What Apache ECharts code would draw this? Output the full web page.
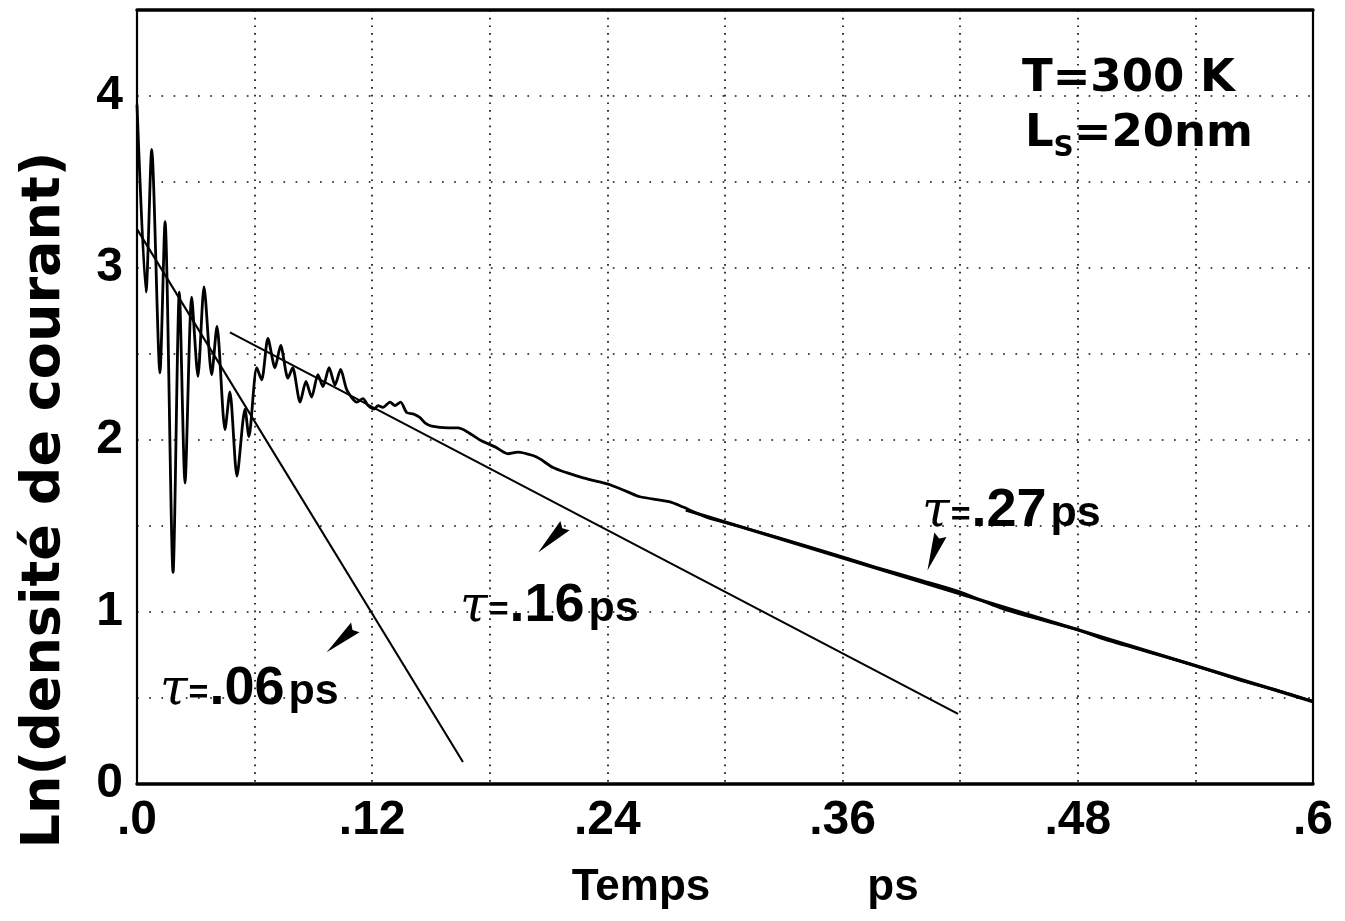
<!DOCTYPE html>
<html>
<head>
<meta charset="utf-8">
<script src="https://cdn.jsdelivr.net/npm/echarts@6/dist/echarts.min.js"></script>
<style>
  html, body { margin: 0; padding: 0; background: #fff; }
  #chart { width: 1345px; height: 921px; }
</style>
</head>
<body>
<div id="chart"></div>
<script>
// Simulated current density decay, T = 300 K, Ls = 20 nm
const timePs = [
  0.0000, 0.0046, 0.0075, 0.0117, 0.0143, 0.0184, 0.0216, 0.0245, 0.0279, 0.0311,
  0.0342, 0.0381, 0.0408, 0.0449, 0.0474, 0.0510, 0.0551, 0.0571, 0.0611, 0.0636,
  0.0668, 0.0704, 0.0733, 0.0770, 0.0794, 0.0832, 0.0862, 0.0891, 0.0923, 0.0949,
  0.0980, 0.1010, 0.1039, 0.1071, 0.1122, 0.1153, 0.1179, 0.1209, 0.1230, 0.1254,
  0.1291, 0.1316, 0.1345, 0.1376, 0.1413, 0.1444, 0.1469, 0.1504, 0.1587, 0.1638,
  0.1682, 0.1750, 0.1827, 0.1893, 0.1944, 0.2020, 0.2056, 0.2122, 0.2192, 0.2276,
  0.2347, 0.2413, 0.2500, 0.2566, 0.2719, 0.2786, 0.2908, 0.3066, 0.3485, 0.3770,
  0.4013, 0.4190, 0.4439, 0.4791, 0.4939, 0.5367, 0.5612, 0.5847, 0.6000
];
const lnCurrent = [
  3.95, 2.86, 3.69, 2.39, 3.27, 1.23, 2.86, 1.75, 2.83, 2.37,
  2.89, 2.38, 2.66, 2.06, 2.28, 1.79, 2.18, 2.02, 2.42, 2.35,
  2.59, 2.42, 2.55, 2.36, 2.42, 2.22, 2.34, 2.25, 2.38, 2.31,
  2.42, 2.32, 2.41, 2.29, 2.22, 2.24, 2.20, 2.18, 2.20, 2.19,
  2.22, 2.20, 2.22, 2.16, 2.15, 2.13, 2.10, 2.08, 2.07, 2.07,
  2.05, 2.00, 1.96, 1.92, 1.93, 1.91, 1.89, 1.84, 1.81, 1.78,
  1.76, 1.74, 1.70, 1.67, 1.64, 1.61, 1.55, 1.50, 1.36, 1.26,
  1.18, 1.12, 1.01, 0.90, 0.84, 0.70, 0.61, 0.535, 0.48
];

// Exponential fits (straight lines in log scale): [start, end]
const fitTau06 = [[0.0, 3.226], [0.1663, 0.128]];
const fitTau16 = [[0.0474, 2.626], [0.4189, 0.408]];
const fitTau27 = [[0.28, 1.593], [0.6, 0.479]];

// Fit labels and their anchor (left edge, middle) in data units
const tauValues = ['.06', '.16', '.27'];
const tauLabelAnchors = [[0.0117, 0.575], [0.1648, 1.06], [0.4005, 1.612]];
// Pointer wedges: centre position, rotation (deg)
const pointerCentres = [[0.1041, 0.838], [0.2115, 1.424], [0.4066, 1.345]];
const pointerAngles = [131, 135, 160];

const xTickLabels = ['.0', '.12', '.24', '.36', '.48', '.6'];
const yTickLabels = ['0', '1', '2', '3', '4'];

const curveData = timePs.map((t, i) => [t, lnCurrent[i]]);

const SANS = 'Liberation Sans';
const WIDE = 'DejaVu Sans';

// narrow wedge, tip at the top, slightly notched back
const WEDGE = 'path://M6,0 L12,40 L6,36 L0,40 Z';

// bottom padding lifts the smaller pieces onto a common baseline
const tauRich = {
  tau: { fontFamily: 'DejaVu Serif', fontStyle: 'italic', fontSize: 50, color: '#000', verticalAlign: 'bottom', lineHeight: 62 },
  eq: { fontFamily: SANS, fontWeight: 'bold', fontSize: 34, color: '#000', verticalAlign: 'bottom', lineHeight: 40, padding: [0, 1, 5, 1] },
  num: { fontFamily: SANS, fontWeight: 'bold', fontSize: 54, color: '#000', verticalAlign: 'bottom', lineHeight: 54 },
  unit: { fontFamily: SANS, fontWeight: 'bold', fontSize: 43, color: '#000', verticalAlign: 'bottom', lineHeight: 46, padding: [0, 0, 2, 4] }
};

const noteRich = {
  b: { fontFamily: WIDE, fontWeight: 'bold', fontSize: 45, color: '#000', lineHeight: 54, verticalAlign: 'bottom', padding: [0, 0, 6, 0] },
  sub: { fontFamily: WIDE, fontWeight: 'bold', fontSize: 28, color: '#000', lineHeight: 30, verticalAlign: 'bottom' }
};

const chart = echarts.init(document.getElementById('chart'), null, { renderer: 'canvas' });

const dotted = (color, w, gap) => ({ color: color, width: w, type: [w, gap] });

chart.setOption({
  backgroundColor: '#fff',
  animation: false,
  grid: { left: 137, right: 32, top: 10, bottom: 137, containLabel: false },
  xAxis: [
    {
      type: 'value', position: 'bottom', min: 0, max: 0.6, interval: 0.06,
      axisLine: { show: true, onZero: false, lineStyle: { color: '#000', width: 3.5 } },
      axisTick: { show: false },
      splitLine: { show: true, lineStyle: dotted('#111', 1.7, 6) },
      axisLabel: {
        margin: 13, color: '#000', fontFamily: SANS, fontWeight: 'bold', fontSize: 48,
        formatter: v => {
          const k = Math.round(v / 0.12);
          return Math.abs(v - k * 0.12) < 1e-6 ? xTickLabels[k] : '';
        }
      }
    },
    {
      type: 'value', position: 'top', min: 0, max: 0.6, interval: 0.06,
      axisLine: { show: true, onZero: false, lineStyle: { color: '#000', width: 3.5 } },
      axisTick: { show: false }, axisLabel: { show: false }, splitLine: { show: false }
    }
  ],
  yAxis: [
    {
      type: 'value', position: 'left', min: 0, max: 4.5, interval: 0.5,
      axisLine: { show: true, onZero: false, lineStyle: { color: '#000', width: 2.2 } },
      axisTick: { show: false },
      splitLine: { show: true, lineStyle: dotted('#111', 1.7, 10.5) },
      axisLabel: {
        margin: 14, color: '#000', fontFamily: SANS, fontWeight: 'bold', fontSize: 48,
        formatter: v => (Math.abs(v - Math.round(v)) < 1e-6 && Math.round(v) < yTickLabels.length) ? yTickLabels[Math.round(v)] : ''
      }
    },
    {
      type: 'value', position: 'right', min: 0, max: 4.5, interval: 0.5,
      axisLine: { show: true, onZero: false, lineStyle: { color: '#000', width: 2.2 } },
      axisTick: { show: false }, axisLabel: { show: false }, splitLine: { show: false }
    }
  ],
  series: [
    {
      name: 'Ln J(t)', type: 'line', data: curveData, showSymbol: false, smooth: 0.25,
      lineStyle: { color: '#000', width: 2.8 }, z: 4
    },
    {
      name: 'fit .06', type: 'line', data: fitTau06, showSymbol: false,
      lineStyle: { color: '#000', width: 2.1 }, z: 3
    },
    {
      name: 'fit .16', type: 'line', data: fitTau16, showSymbol: false,
      lineStyle: { color: '#000', width: 2.1 }, z: 3
    },
    {
      name: 'fit .27', type: 'line', data: fitTau27, showSymbol: false,
      lineStyle: { color: '#000', width: 3.2 }, z: 3
    },
    {
      name: 'pointers', type: 'scatter', silent: true, z: 5,
      itemStyle: { color: '#000', opacity: 1 },
      data: pointerCentres.map((c, i) => ({
        value: c, symbol: WEDGE, symbolSize: [13, 38], symbolRotate: pointerAngles[i]
      }))
    },
    {
      name: 'tau labels', type: 'scatter', silent: true, symbolSize: 0, z: 6,
      itemStyle: { opacity: 1 },
      data: tauLabelAnchors.map((c, i) => ({
        value: c,
        label: {
          show: true, position: 'right', distance: 0, opacity: 1,
          formatter: '{tau|τ}{eq|=}{num|' + tauValues[i] + '}{unit|ps}',
          rich: tauRich
        }
      }))
    },
    {
      name: 'conditions', type: 'scatter', silent: true, symbolSize: 0, z: 6,
      itemStyle: { opacity: 1 },
      data: [
        { value: [0.4515, 4.09], label: { show: true, position: 'right', distance: 0, opacity: 1, formatter: '{b|T=300 K}', rich: noteRich } },
        { value: [0.4530, 3.77], label: { show: true, position: 'right', distance: 0, opacity: 1, formatter: '{b|L}{sub|S}{b|=20nm}', rich: noteRich } }
      ]
    }
  ],
  graphic: [
    {
      type: 'text', x: 45, y: 500, rotation: Math.PI / 2,
      style: {
        text: 'Ln(densité de courant)', fill: '#000',
        fontFamily: WIDE, fontWeight: 'bold', fontSize: 54,
        align: 'center', verticalAlign: 'middle', textAlign: 'center', textVerticalAlign: 'middle'
      }
    },
    {
      type: 'text', x: 641, y: 888,
      style: {
        text: 'Temps', fill: '#000', fontFamily: SANS, fontWeight: 'bold', fontSize: 44,
        align: 'center', verticalAlign: 'middle', textAlign: 'center', textVerticalAlign: 'middle'
      }
    },
    {
      type: 'text', x: 893, y: 888,
      style: {
        text: 'ps', fill: '#000', fontFamily: SANS, fontWeight: 'bold', fontSize: 44,
        align: 'center', verticalAlign: 'middle', textAlign: 'center', textVerticalAlign: 'middle'
      }
    }
  ]
});
</script>
</body>
</html>
